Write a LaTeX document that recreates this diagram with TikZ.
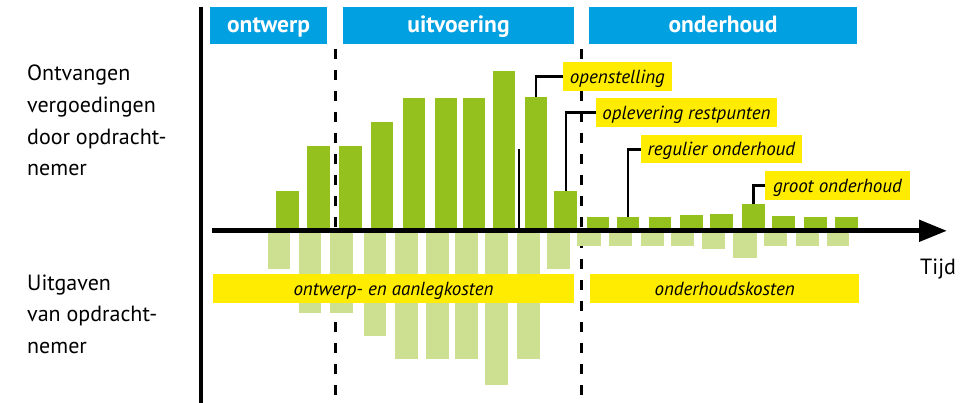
\documentclass[tikz,border=0pt]{standalone}
\usepackage{fontspec}
\setmainfont{PT Sans}
\usetikzlibrary{arrows.meta}
\definecolor{hblue}{RGB}{0,160,225}
\definecolor{dgreen}{RGB}{149,193,31}
\definecolor{lgreen}{RGB}{205,224,145}
\definecolor{lyellow}{RGB}{255,236,0}
\tikzset{
  header/.style={fill=hblue, text=white, inner sep=0pt, text height=25.5pt, text depth=11.5pt,
    font=\fontsize{23.5}{23.5}\selectfont\bfseries, anchor=center},
  lab/.style={fill=lyellow, inner sep=0pt, text height=20.8pt, text depth=7.5pt,
    font=\fontsize{19}{19}\selectfont\itshape},
  side/.style={anchor=base west, inner sep=0pt, font=\fontsize{22}{22}\selectfont},
  phase/.style={line width=3pt, dash pattern=on 10pt off 11pt},
  conn/.style={line width=2.5pt, black},
  upbar/.style={fill=dgreen},
  lowbar/.style={fill=lgreen}
}
\begin{document}
\begin{tikzpicture}[x=1pt,y=-1pt]
\useasboundingbox (0,0) rectangle (963,403);
% phase separators
\coordinate (d1t) at (335,49); \coordinate (d1b) at (335,403);
\coordinate (d2t) at (581.5,49); \coordinate (d2b) at (581.5,403);
\draw[phase] (d1t) -- (d1b);
\draw[phase] (d2t) -- (d2b);
% upper bars
\foreach \a/\b/\t [count=\i] in {275.7/298.7/191, 307.3/330.3/145.7, 339.3/362.3/145.7, 370.7/393.3/122, 402.7/425.3/98, 434.7/457.3/98, 462.7/485.3/98, 492.7/515.3/71, 524.7/547.3/97, 554.3/577.3/191, 586.7/609.3/216.7, 616.7/639.3/216.7, 648.7/671.3/216.7, 680/702.7/215, 710/732.7/214, 742/764.7/204, 772/794.7/215.7, 804/826.7/216.7, 835/857.7/216.7}{
  \fill[upbar] (\a,\t) rectangle (\b,230);
  \coordinate (u\i) at ({(\a+\b)/2},\t);
}
% lower bars
\foreach \a/\b/\t in {267.7/290.3/269.3, 298.7/321.3/312.7, 329.7/352.7/312.7, 363.7/386.3/335.7, 394.7/417.7/358.7, 425.7/448.7/358.7, 454.7/477.7/358.7, 485/507.7/384.7, 516.7/539.7/359.3, 546.7/569.7/269.3, 577.3/600.7/245.7, 608.7/632/245.7, 640.7/664/245.7, 670.7/694/245.7, 702/725.3/248.7, 733.3/756.7/257.7, 764/787.3/245.7, 796/818.7/245.7, 826.7/849.3/245.7}{
  \fill[lowbar] (\a,230) rectangle (\b,\t);
}
% cost labels
\node[lab, minimum width=361.6pt] (k1) at (393.5,288.4) {ontwerp- en aanlegkosten};
\node[lab, minimum width=269.3pt] (k2) at (724.7,288.4) {onderhoudskosten};
% vertical axis
\coordinate (v0) at (201,7); \coordinate (v1) at (201,403);
\draw[line width=4pt] (v0) -- (v1);
% time axis
\coordinate (ax0) at (212,230.8); \coordinate (ax1) at (947,230.8);
\draw[line width=5pt, -{Triangle[length=28pt,width=21pt]}] (ax0) -- (ax1);
\node[anchor=base west, inner sep=0pt, font=\fontsize{22}{22}\selectfont] (tijd) at (920,274) {Tijd};
% headers
\node[header, minimum width=117pt] (h1) at (268.5,25.5) {ontwerp};
\node[header, minimum width=231pt] (h2) at (458.5,25.5) {uitvoering};
\node[header, minimum width=268pt] (h3) at (723,25.5) {onderhoud};
% side texts
\node[side] (s1) at (27,81) {Ontvangen};
\node[side] (s2) at (27,112.7) {vergoedingen};
\node[side] (s3) at (27,144.4) {door opdracht-};
\node[side] (s4) at (27,176) {nemer};
\node[side] (s5) at (27,290) {Uitgaven};
\node[side] (s6) at (27,321.5) {van opdracht-};
\node[side] (s7) at (27,353) {nemer};
% event labels
\node[lab, anchor=west, minimum width=109pt] (open) at (562.7,76.5) {openstelling};
\node[lab, anchor=west, minimum width=180.7pt] (oplev) at (596,112.5) {oplevering restpunten};
\node[lab, anchor=west, minimum width=161pt] (regul) at (640.7,149.3) {regulier onderhoud};
\node[lab, anchor=west, minimum width=144.3pt] (groot) at (765,185.5) {groot onderhoud};
\draw[conn] (open.west) -| (u9);
\draw[conn] (oplev.west) -| (u10);
\draw[conn] (regul.west) -| (u12);
\draw[conn] (groot.west) -| (u16);
% thin marker line
\coordinate (m0) at (519,149.3); \coordinate (m1) at (519,230);
\draw[line width=2pt] (m0) -- (m1);
\end{tikzpicture}
\end{document}
